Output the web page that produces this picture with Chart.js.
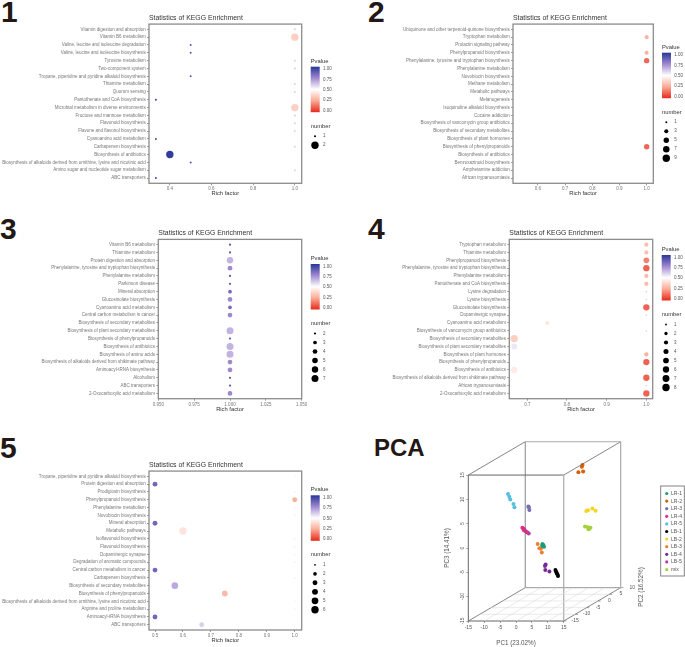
<!DOCTYPE html>
<html>
<head>
<meta charset="utf-8">
<script src="https://cdn.jsdelivr.net/npm/chart.js@4"></script>
<style>
  html, body { margin: 0; padding: 0; background: #fff; }
  #page { position: relative; width: 685px; height: 647px; overflow: hidden; font-family: "Liberation Sans", Arial, sans-serif; }
  canvas { position: absolute; }
  .tag { position: absolute; font-weight: bold; color: #231815; line-height: 1; }
</style>
</head>
<body>
<div id="page">
  <div class="tag" style="left:1px;top:-3px;font-size:30px">1</div>
  <div class="tag" style="left:368px;top:-3px;font-size:30px">2</div>
  <div class="tag" style="left:0;top:214px;font-size:30px">3</div>
  <div class="tag" style="left:368px;top:214px;font-size:30px">4</div>
  <div class="tag" style="left:0;top:433px;font-size:30px">5</div>
  <div class="tag" style="left:374px;top:436px;font-size:24px">PCA</div>
</div>
<script>
// panel 1
const labels1 = ['Vitamin digestion and absorption', 'Vitamin B6 metabolism', 'Valine, leucine and isoleucine degradation', 'Valine, leucine and isoleucine biosynthesis', 'Tyrosine metabolism', 'Two-component system', 'Tropane, piperidine and pyridine alkaloid biosynthesis', 'Thiamine metabolism', 'Quorum sensing', 'Pantothenate and CoA biosynthesis', 'Microbial metabolism in diverse environments', 'Fructose and mannose metabolism', 'Flavonoid biosynthesis', 'Flavone and flavonol biosynthesis', 'Cyanoamino acid metabolism', 'Carbapenem biosynthesis', 'Biosynthesis of antibiotics', 'Biosynthesis of alkaloids derived from ornithine, lysine and nicotinic acid', 'Amino sugar and nucleotide sugar metabolism', 'ABC transporters'];
const rich1 = [1, 1, 0.5, 0.5, 1, 1, 0.5, 1, 1, 0.333, 1, 1, 1, 1, 0.333, 1, 0.4, 0.5, 1, 0.333];
const number1 = [1, 2, 1, 1, 1, 1, 1, 1, 1, 1, 2, 1, 1, 1, 1, 1, 2, 1, 1, 1];
const pvalue1 = [0.6, 0.36, 0.9, 0.9, 0.6, 0.6, 0.9, 0.6, 0.6, 0.95, 0.36, 0.6, 0.6, 0.6, 0.95, 0.6, 0.98, 0.9, 0.6, 0.95];
const sizes1 = [1, 2];
const xticks1 = [0.4, 0.6, 0.8, 1.0];

// panel 2
const labels2 = ['Ubiquinone and other terpenoid-quinone biosynthesis', 'Tryptophan metabolism', 'Prolactin signaling pathway', 'Phenylpropanoid biosynthesis', 'Phenylalanine, tyrosine and tryptophan biosynthesis', 'Phenylalanine metabolism', 'Novobiocin biosynthesis', 'Methane metabolism', 'Metabolic pathways', 'Melanogenesis', 'Isoquinoline alkaloid biosynthesis', 'Cocaine addiction', 'Biosynthesis of vancomycin group antibiotics', 'Biosynthesis of secondary metabolites', 'Biosynthesis of plant hormones', 'Biosynthesis of phenylpropanoids', 'Biosynthesis of antibiotics', 'Benzoxazinoid biosynthesis', 'Amphetamine addiction', 'African trypanosomiasis'];
const rich2 = [null, 1, null, 1, 1, null, null, null, null, null, null, null, null, null, null, 1, null, null, null, null];
const number2 = [null, 3, null, 3, 5, null, null, null, null, null, null, null, null, null, null, 5, null, null, null, null];
const pvalue2 = [null, 0.28, null, 0.27, 0.12, null, null, null, null, null, null, null, null, null, null, 0.12, null, null, null, null];
const sizes2 = [1, 3, 5, 7, 9];
const xticks2 = [0.6, 0.7, 0.8, 0.9, 1.0];

// panel 3
const labels3 = ['Vitamin B6 metabolism', 'Thiamine metabolism', 'Protein digestion and absorption', 'Phenylalanine, tyrosine and tryptophan biosynthesis', 'Phenylalanine metabolism', 'Parkinson disease', 'Mineral absorption', 'Glucosinolate biosynthesis', 'Cyanoamino acid metabolism', 'Central carbon metabolism in cancer', 'Biosynthesis of secondary metabolites', 'Biosynthesis of plant secondary metabolites', 'Biosynthesis of phenylpropanoids', 'Biosynthesis of antibiotics', 'Biosynthesis of amino acids', 'Biosynthesis of alkaloids derived from shikimate pathway', 'Aminoacyl-tRNA biosynthesis', 'Alcoholism', 'ABC transporters', '2-Oxocarboxylic acid metabolism'];
const rich3 = [1, 1, 1, 1, 1, 1, 1, 1, 1, 1, null, 1, 1, 1, 1, 1, 1, 1, 1, 1];
const number3 = [2, 2, 6, 4, 2, 2, 3, 4, 3, 4, null, 7, 2, 7, 7, 4, 4, 2, 2, 4];
const pvalue3 = [0.9, 0.9, 0.66, 0.75, 0.9, 0.9, 0.84, 0.75, 0.84, 0.75, null, 0.66, 0.9, 0.66, 0.66, 0.75, 0.75, 0.9, 0.9, 0.75];
const sizes3 = [2, 3, 4, 5, 6, 7];
const xticks3 = [0.95, 0.975, 1.0, 1.025, 1.05];

// panel 4
const labels4 = ['Tryptophan metabolism', 'Thiamine metabolism', 'Phenylpropanoid biosynthesis', 'Phenylalanine, tyrosine and tryptophan biosynthesis', 'Phenylalanine metabolism', 'Pantothenate and CoA biosynthesis', 'Lysine degradation', 'Lysine biosynthesis', 'Glucosinolate biosynthesis', 'Dopaminergic synapse', 'Cyanoamino acid metabolism', 'Biosynthesis of vancomycin group antibiotics', 'Biosynthesis of secondary metabolites', 'Biosynthesis of plant secondary metabolites', 'Biosynthesis of plant hormones', 'Biosynthesis of phenylpropanoids', 'Biosynthesis of antibiotics', 'Biosynthesis of alkaloids derived from shikimate pathway', 'African trypanosomiasis', '2-Oxocarboxylic acid metabolism'];
const rich4 = [1, 1, 1, 1, 1, 1, 1, 1, 1, 1, 0.75, 1, 0.667, 0.667, 1, 1, 0.667, 1, 1, 1];
const number4 = [3, 3, 5, 6, 3, 3, 1, 1, 6, 1, 3, 1, 8, 5, 3, 6, 6, 6, 1, 6];
const pvalue4 = [0.31, 0.32, 0.17, 0.11, 0.3, 0.3, 0.58, 0.58, 0.11, 0.58, 0.43, 0.58, 0.36, 0.55, 0.27, 0.11, 0.44, 0.11, 0.58, 0.11];
const sizes4 = [1, 2, 3, 4, 5, 6, 7, 8];
const xticks4 = [0.7, 0.8, 0.9, 1.0];

// panel 5
const labels5 = ['Tropane, piperidine and pyridine alkaloid biosynthesis', 'Protein digestion and absorption', 'Prodigiosin biosynthesis', 'Phenylpropanoid biosynthesis', 'Phenylalanine metabolism', 'Novobiocin biosynthesis', 'Mineral absorption', 'Metabolic pathways', 'Isoflavonoid biosynthesis', 'Flavonoid biosynthesis', 'Dopaminergic synapse', 'Degradation of aromatic compounds', 'Central carbon metabolism in cancer', 'Carbapenem biosynthesis', 'Biosynthesis of secondary metabolites', 'Biosynthesis of phenylpropanoids', 'Biosynthesis of alkaloids derived from ornithine, lysine and nicotinic acid', 'Arginine and proline metabolism', 'Aminoacyl-tRNA biosynthesis', 'ABC transporters'];
const rich5 = [1, 0.5, 1, 1, 1, 1, 0.5, 0.6, 1, 1, 1, 1, 0.5, 1, 0.571, 0.75, 1, 1, 0.5, 0.667];
const number5 = [1, 3, 1, 3, 1, 1, 3, 6, 1, 1, 1, 1, 3, 1, 5, 4, 1, 1, 3, 3];
const pvalue5 = [0.53, 0.85, 0.53, 0.27, 0.53, 0.53, 0.85, 0.42, 0.53, 0.53, 0.53, 0.53, 0.85, 0.53, 0.68, 0.3, 0.53, 0.53, 0.85, 0.6];
const sizes5 = [1, 2, 3, 4, 5, 6];
const xticks5 = [0.5, 0.6, 0.7, 0.8, 0.9, 1.0];

// PCA groups as [PC1, PC3] on the plane of the front face
const pcaNames = ['LR-1', 'LR-2', 'LR-3', 'LR-4', 'LR-5', 'LB-1', 'LB-2', 'LB-3', 'LB-4', 'LB-5', 'mix'];
const pcaColors = ['#1b9e77', '#d95f02', '#7570b3', '#e7298a', '#56bfe0', '#000000', '#f7d51d', '#f08030', '#762a96', '#b53fa5', '#a6cf3a'];
const pcaLR1 = [[8.3, 0.82], [8.6, 0.62], [8.8, 0.27], [8.5, 0.34], [8.2, 0.48]];
const pcaLR2 = [[20.9, 17.05], [20.7, 16.7], [19.6, 15.6], [21.1, 15.75]];
const pcaLR3 = [[3.9, 8.56], [4.0, 8.36], [4.2, 7.8]];
const pcaLR4 = [[2.0, 4.18], [2.3, 3.97], [2.6, 3.84], [2.8, 3.56], [3.3, 3.29], [2.5, 3.63]];
const pcaLR5 = [[-2.5, 11.1], [-2.1, 10.55], [-1.8, 10.0], [-0.8, 9.04], [-0.5, 8.4]];
const pcaLB1 = [[12.4, -4.5], [12.6, -4.86], [12.8, -5.14], [13.0, -5.4], [13.2, -5.75]];
const pcaLB2 = [[22.1, 7.6], [22.6, 7.74], [24.0, 8.15], [25.0, 7.67]];
const pcaLB3 = [[6.8, 0.82], [7.35, -0.07], [7.8, -0.14], [8.1, -0.9]];
const pcaLB4 = [[9.3, -3.4], [9.1, -3.7], [9.2, -4.5], [10.5, -4.8]];
const pcaLB5 = [[4.0, 3.0], [3.6, 3.2]];
const pcaMix = [[21.7, 4.45], [22.6, 4.25], [23.0, 3.97], [23.4, 4.18], [22.8, 3.84]];
const pc1Ticks = [-15, -10, -5, 0, 5, 10, 15];
const pc2Ticks = [-15, -10, -5, 0, 5, 10];
const pc3Ticks = [-15, -10, -5, 0, 5, 10, 15];
const pvalueTicks = [1, 0.75, 0.5, 0.25, 0];

const FONT = '"Liberation Sans", Arial, sans-serif';
const page = document.getElementById('page');

// colour scale for Pvalue: red - white - blue
const colorStops = [[0, [229, 42, 30]], [0.25, [250, 170, 150]], [0.5, [255, 255, 255]], [0.75, [160, 136, 208]], [1, [40, 55, 150]]];
function pvalueColor(p) {
    for (let i = 1; i < colorStops.length; i++) {
        if (p <= colorStops[i][0]) {
            const [p0, c0] = colorStops[i - 1];
            const [p1, c1] = colorStops[i];
            const t = (p - p0) / (p1 - p0);
            return 'rgb(' + c0.map((c, k) => Math.round(c + (c1[k] - c) * t)).join(',') + ')';
        }
    }
    return 'rgb(40,55,150)';
}

// number -> radius, linear in area like ggplot's scale_size
function radiusFor(n, sizes, rMin, rMax) {
    const lo = sizes[0], hi = sizes[sizes.length - 1];
    return Math.sqrt(rMin * rMin + (rMax * rMax - rMin * rMin) * (n - lo) / (hi - lo));
}

function addCanvas(left, top, width, height) {
    const canvas = document.createElement('canvas');
    canvas.width = width;
    canvas.height = height;
    canvas.style.cssText = `left:${left}px;top:${top}px;width:${width}px;height:${height}px`;
    page.appendChild(canvas);
    return canvas;
}

// draws the frame and the two legends of an enrichment panel
function panelDecor(p) {
    return {
        id: 'panelDecor',
        beforeDatasetsDraw(chart) {
            const { ctx, chartArea: a } = chart;
            ctx.save();
            ctx.strokeStyle = '#8c8c8c';
            ctx.lineWidth = 1.3;
            ctx.strokeRect(a.left, a.top, a.right - a.left, a.bottom - a.top);
            ctx.restore();
        },
        afterDraw(chart) {
            const ctx = chart.ctx;
            const lx = p.legendX - p.left;
            const barTop = p.barTop - p.top;
            const barH = 45.5;
            ctx.save();
            ctx.textBaseline = 'middle';
            ctx.textAlign = 'left';
            ctx.fillStyle = '#333';
            ctx.font = `5.8px ${FONT}`;
            ctx.fillText('Pvalue', lx, barTop - 5.5);
            const grad = ctx.createLinearGradient(0, barTop, 0, barTop + barH);
            colorStops.forEach(s => grad.addColorStop(1 - s[0], pvalueColor(s[0])));
            ctx.fillStyle = grad;
            ctx.fillRect(lx, barTop, 9, barH);
            ctx.fillStyle = '#555';
            ctx.font = `4.5px ${FONT}`;
            pvalueTicks.forEach(v => {
                ctx.fillText(v.toFixed(2), lx + 12.3, barTop + 2.3 + (1 - v) * 41.6);
            });
            const numY = barTop + barH + 14;
            ctx.fillStyle = '#333';
            ctx.font = `5.8px ${FONT}`;
            ctx.fillText('number', lx, numY);
            ctx.font = `4.5px ${FONT}`;
            p.sizes.forEach((n, i) => {
                const y = numY + 10 + i * 9;
                ctx.fillStyle = '#000';
                ctx.beginPath();
                ctx.arc(lx + 4.3, y, radiusFor(n, p.sizes, p.rMin, p.rMax), 0, Math.PI * 2);
                ctx.fill();
                ctx.fillStyle = '#555';
                ctx.fillText(String(n), lx + 12.3, y);
            });
            ctx.restore();
        }
    };
}

function drawPanel(p) {
    const canvas = addCanvas(p.left, p.top, p.width, p.height);
    const points = [];
    const colors = [];
    p.labels.forEach((label, i) => {
        if (p.rich[i] === null) return;
        points.push({ x: p.rich[i], y: i, r: radiusFor(p.number[i], p.sizes, p.rMin, p.rMax) });
        colors.push(pvalueColor(p.pvalue[i]));
    });
    new Chart(canvas, {
        type: 'bubble',
        data: { datasets: [{ data: points, backgroundColor: colors, borderWidth: 0, hoverRadius: 0 }] },
        options: {
            responsive: false,
            animation: false,
            devicePixelRatio: 1,
            layout: {
                padding: {
                    left: 0,
                    top: p.plotTop - p.top - 10,
                    right: p.left + p.width - p.plotRight,
                    bottom: p.top + p.height - p.plotBottom - 14
                }
            },
            plugins: {
                legend: { display: false },
                tooltip: { enabled: false },
                title: {
                    display: true,
                    text: 'Statistics of KEGG Enrichment',
                    align: 'start',
                    fullSize: false,
                    color: '#333',
                    font: { family: FONT, size: 6.9, weight: 'normal' },
                    padding: { top: 0, bottom: 1.8 }
                }
            },
            scales: {
                x: {
                    type: 'linear',
                    min: p.xMin,
                    max: p.xMax,
                    grid: { drawOnChartArea: false, tickLength: 2, tickColor: '#555', tickWidth: 0.6 },
                    border: { display: false },
                    title: { display: true, text: 'Rich factor', color: '#333', padding: 0, font: { family: FONT, size: 5.8 } },
                    ticks: {
                        color: '#777',
                        padding: 1,
                        maxRotation: 0,
                        autoSkip: false,
                        font: { family: FONT, size: 4.5 },
                        callback: v => v.toFixed(p.digits)
                    },
                    afterBuildTicks: s => { s.ticks = p.xticks.map(v => ({ value: v })); },
                    afterFit: s => { s.height = 14; s.paddingLeft = 0; s.paddingRight = 0; }
                },
                y: {
                    type: 'linear',
                    reverse: true,
                    min: -0.67,
                    max: p.labels.length - 1 + 0.67,
                    grid: { drawOnChartArea: false, tickLength: 2, tickColor: '#555', tickWidth: 0.6 },
                    border: { display: false },
                    ticks: {
                        color: '#777',
                        padding: 1.3,
                        autoSkip: false,
                        font: { family: FONT, size: 4.5 },
                        callback: v => p.labels[v]
                    },
                    afterBuildTicks: s => { s.ticks = p.labels.map((_, i) => ({ value: i })); },
                    afterFit: s => { s.width = p.plotLeft - p.left; s.paddingTop = 0; s.paddingBottom = 0; }
                }
            }
        },
        plugins: [panelDecor(p)]
    });
}

drawPanel({ labels: labels1, rich: rich1, number: number1, pvalue: pvalue1, sizes: sizes1, xticks: xticks1, digits: 1, rMin: 1, rMax: 3.7,
    left: 0, top: 0, width: 345, height: 210, plotLeft: 149, plotRight: 301.7, plotTop: 24, plotBottom: 183.3, xMin: 0.3, xMax: 1.033, legendX: 310.7, barTop: 66.7 });
drawPanel({ labels: labels2, rich: rich2, number: number2, pvalue: pvalue2, sizes: sizes2, xticks: xticks2, digits: 1, rMin: 1, rMax: 3.7,
    left: 345, top: 0, width: 340, height: 210, plotLeft: 513, plotRight: 653.3, plotTop: 24, plotBottom: 183.3, xMin: 0.508, xMax: 1.0245, legendX: 662, barTop: 52.7 });
drawPanel({ labels: labels3, rich: rich3, number: number3, pvalue: pvalue3, sizes: sizes3, xticks: xticks3, digits: 3, rMin: 1.1, rMax: 3.5,
    left: 0, top: 210, width: 345, height: 215, plotLeft: 158.3, plotRight: 301.7, plotTop: 239.3, plotBottom: 398.7, xMin: 0.95, xMax: 1.05, legendX: 310.7, barTop: 264 });
drawPanel({ labels: labels4, rich: rich4, number: number4, pvalue: pvalue4, sizes: sizes4, xticks: xticks4, digits: 1, rMin: 0.9, rMax: 3.7,
    left: 345, top: 210, width: 340, height: 215, plotLeft: 509.3, plotRight: 652.7, plotTop: 239.3, plotBottom: 398.7, xMin: 0.6546, xMax: 1.016, legendX: 661.7, barTop: 255 });
drawPanel({ labels: labels5, rich: rich5, number: number5, pvalue: pvalue5, sizes: sizes5, xticks: xticks5, digits: 1, rMin: 0.9, rMax: 3.7,
    left: 0, top: 425, width: 345, height: 222, plotLeft: 149, plotRight: 301.7, plotTop: 471, plotBottom: 630, xMin: 0.4785, xMax: 1.025, legendX: 310.7, barTop: 495.3 });

// PCA box: PC2 runs along this shift (in PC1 / PC3 units) from -15 to 10
const depth = { x: 17.9, y: 6.85 };
function box3d(pc1, pc2, pc3) {
    const t = (pc2 + 15) / 25;
    return { x: pc1 + depth.x * t, y: pc3 + depth.y * t };
}
function segments(list) {
    const out = [];
    list.forEach(s => out.push(box3d(...s[0]), box3d(...s[1]), { x: null, y: null }));
    return out;
}
function lineSet(list, color, width) {
    return { type: 'scatter', showLine: true, data: segments(list), borderColor: color, borderWidth: width, pointRadius: 0, clip: false, spanGaps: false };
}
const floorLines = [];
pc1Ticks.slice(1, -1).forEach(v => floorLines.push([[v, -15, -15], [v, 10, -15]]));
pc2Ticks.slice(1, -1).forEach(v => floorLines.push([[-15, v, -15], [15, v, -15]]));
const pc2Marks = pc2Ticks.map(v => [[15, v, -15], [15.9, v, -15]]);

const pcaGroups = [pcaLR1, pcaLR2, pcaLR3, pcaLR4, pcaLR5, pcaLB1, pcaLB2, pcaLB3, pcaLB4, pcaLB5, pcaMix];
const pcaDatasets = [
    lineSet(floorLines, '#dcdcdc', 0.6),
    lineSet([[[-15, 10, -15], [15, 10, -15]], [[15, 10, -15], [15, 10, 15]], [[-15, 10, 15], [15, 10, 15]], [[15, -15, -15], [15, -15, 15]]], '#aaaaaa', 1.2),
    lineSet([[[-15, 10, -15], [-15, 10, 15]], [[-15, -15, 15], [-15, 10, 15]], [[15, -15, 15], [15, 10, 15]], [[15, -15, -15], [15, 10, -15]], [[-15, -15, -15], [-15, 10, -15]]], '#666666', 0.8),
    lineSet([[[-15, -15, -15], [15, -15, -15]], [[-15, -15, -15], [-15, -15, 15]], [[-15, -15, 15], [15, -15, 15]]], '#555555', 0.9),
    lineSet(pc2Marks, '#666666', 0.6)
];
pcaGroups.forEach((group, i) => {
    pcaDatasets.push({
        data: group.map(g => ({ x: g[0], y: g[1] })),
        backgroundColor: pcaColors[i],
        borderWidth: 0,
        pointRadius: 2
    });
});

const pcaDecor = {
    id: 'pcaDecor',
    afterDraw(chart) {
        const { ctx, scales: { x, y } } = chart;
        const label = (text, px, py, rot) => {
            ctx.save();
            ctx.translate(px, py);
            ctx.rotate(rot);
            ctx.fillText(text, 0, 0);
            ctx.restore();
        };
        ctx.save();
        ctx.textAlign = 'center';
        ctx.textBaseline = 'middle';
        ctx.fillStyle = '#555';
        ctx.font = `5px ${FONT}`;
        pc2Ticks.forEach(v => {
            const p = box3d(15, v, -15);
            label(String(v), x.getPixelForValue(p.x) + 11.5, y.getPixelForValue(p.y) - 0.3, 0);
        });
        ctx.font = `6.3px ${FONT}`;
        label('PC1 (23.02%)', x.getPixelForValue(0), 213, 0);
        label('PC3 (14.41%)', 17, y.getPixelForValue(0), -Math.PI / 2);
        label('PC2 (16.52%)', 211, 157, -Math.PI / 2);

        // group legend
        ctx.strokeStyle = '#777';
        ctx.lineWidth = 0.9;
        ctx.strokeRect(230.7, 56, 23.6, 90);
        ctx.textAlign = 'left';
        ctx.font = `5.1px ${FONT}`;
        pcaNames.forEach((name, i) => {
            const py = 63.5 + i * 7.6;
            ctx.fillStyle = pcaColors[i];
            ctx.beginPath();
            ctx.arc(236.7, py, 1.6, 0, Math.PI * 2);
            ctx.fill();
            ctx.fillStyle = '#555';
            ctx.fillText(name, 241, py);
        });
        ctx.restore();
    }
};

new Chart(addCanvas(430, 430, 255, 217), {
    type: 'scatter',
    data: { datasets: pcaDatasets },
    options: {
        responsive: false,
        animation: false,
        devicePixelRatio: 1,
        layout: { padding: { left: 13.3, top: 11, right: 64, bottom: 1 } },
        plugins: { legend: { display: false }, tooltip: { enabled: false } },
        scales: {
            x: {
                type: 'linear',
                min: -15,
                max: 33,
                grid: { drawOnChartArea: false, tickLength: 2, tickColor: '#666', tickWidth: 0.6 },
                border: { display: false },
                ticks: { color: '#555', padding: 2, maxRotation: 0, autoSkip: false, font: { family: FONT, size: 5 } },
                afterBuildTicks: s => { s.ticks = pc1Ticks.map(v => ({ value: v })); },
                afterFit: s => { s.height = 25; s.paddingLeft = 0; s.paddingRight = 0; }
            },
            y: {
                type: 'linear',
                min: -15,
                max: 22,
                grid: { drawOnChartArea: false, tickLength: 2, tickColor: '#666', tickWidth: 0.6 },
                border: { display: false },
                ticks: { color: '#555', padding: 0, minRotation: 90, maxRotation: 90, crossAlign: 'center', autoSkip: false, font: { family: FONT, size: 5 } },
                afterBuildTicks: s => { s.ticks = pc3Ticks.map(v => ({ value: v })); },
                afterFit: s => { s.width = 25; s.paddingTop = 0; s.paddingBottom = 0; }
            }
        }
    },
    plugins: [pcaDecor]
});
</script>
</body>
</html>
